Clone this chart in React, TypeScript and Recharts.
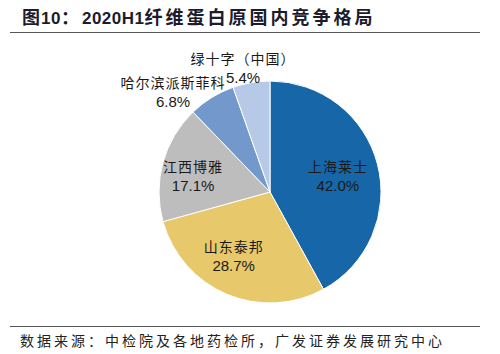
import React from 'react';
import { PieChart, Pie, Cell } from 'recharts';

const companies = ['上海莱士', '山东泰邦', '江西博雅', '哈尔滨派斯菲科', '绿十字（中国）'];
const shares = [42.0, 28.7, 17.1, 6.8, 5.4];
const sliceColors = ['#1767A8', '#E7C86A', '#BDBDBD', '#7398CB', '#B6C9E7'];

// label placement relative to each slice: radius factor and angle shift (degrees)
const labelPlacement = [
  { r: 0.62, da: -5 },
  { r: 0.7, da: -5 },
  { r: 0.7, da: 7 },
  { r: 1.22, da: 14 },
  { r: 1.1, da: 3 },
];

const data = companies.map((name, i) => ({ name, value: shares[i] }));

const RADIAN = Math.PI / 180;

const renderLabel = (props: any) => {
  const { cx, cy, midAngle, outerRadius, index } = props;
  const p = labelPlacement[index];
  const ang = (midAngle + p.da) * RADIAN;
  const r = outerRadius * p.r;
  const x = cx + r * Math.cos(-ang);
  const y = cy + r * Math.sin(-ang);
  return (
    <g>
      <text
        x={x}
        y={y - 9}
        textAnchor="middle"
        fill="#1a1a1a"
        fontSize={14}
        letterSpacing={1}
        fontFamily="'Noto Sans CJK SC', serif"
      >
        {data[index].name}
      </text>
      <text
        x={x}
        y={y + 10}
        textAnchor="middle"
        fill="#1a1a1a"
        fontSize={15}
        fontFamily="'Liberation Sans', Arial, sans-serif"
      >
        {shares[index].toFixed(1)}%
      </text>
    </g>
  );
};

const titleCjk = { fontSize: 18, letterSpacing: 3, fontFamily: "'Noto Sans CJK SC', sans-serif" };
const titleNum = { fontSize: 17, letterSpacing: 0.5, fontFamily: "'Liberation Sans', Arial, sans-serif" };

export default function App() {
  return (
    <div style={{ position: 'absolute', left: 0, top: 0, width: 500, height: 354, background: '#fff' }}>
      <div
        style={{
          position: 'absolute',
          left: 22,
          top: 4,
          fontWeight: 'bold',
          color: '#1c1c2c',
          whiteSpace: 'nowrap',
          lineHeight: '24px',
        }}
      >
        <span style={{ ...titleCjk, letterSpacing: 1 }}>图</span>
        <span style={titleNum}>10</span>
        <span style={titleCjk}>：</span>
        <span style={titleNum}>2020H1</span>
        <span style={titleCjk}>纤维蛋白原国内竞争格局</span>
      </div>
      <div style={{ position: 'absolute', left: 10, top: 32, width: 470, height: 1, background: '#555' }} />
      <PieChart width={500} height={354} style={{ position: 'absolute', left: 0, top: 0 }}>
        <Pie
          data={data}
          dataKey="value"
          nameKey="name"
          cx={265}
          cy={187}
          outerRadius={111}
          startAngle={90}
          endAngle={-270}
          stroke="#fff"
          strokeWidth={1}
          label={renderLabel}
          labelLine={false}
          isAnimationActive={false}
        >
          {data.map((d, i) => (
            <Cell key={d.name} fill={sliceColors[i]} />
          ))}
        </Pie>
      </PieChart>
      <div style={{ position: 'absolute', left: 10, top: 326, width: 470, height: 1, background: '#555' }} />
      <div
        style={{
          position: 'absolute',
          left: 20,
          top: 330,
          fontSize: 14,
          letterSpacing: 3,
          color: '#222',
          fontFamily: "'Noto Sans CJK SC', serif",
          whiteSpace: 'nowrap',
        }}
      >
        数据来源：中检院及各地药检所，广发证券发展研究中心
      </div>
    </div>
  );
}
